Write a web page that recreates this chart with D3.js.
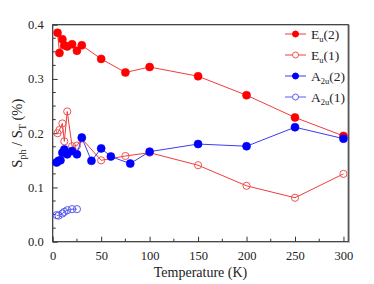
<!DOCTYPE html>
<html>
<head>
<meta charset="utf-8">
<script src="https://cdn.jsdelivr.net/npm/d3@7"></script>
<style>
  body { margin: 0; background: #fff; }
</style>
</head>
<body>
<div id="chart"></div>
<script>
// Temperatures (K) and S_ph / S_T (%) values
const tempEu2 = [5, 7, 10, 12, 15, 20, 25, 30, 50, 75, 100, 150, 200, 250, 300];
const valEu2 = [0.385, 0.348, 0.373, 0.362, 0.360, 0.364, 0.352, 0.362, 0.337, 0.312, 0.322, 0.305, 0.270, 0.229, 0.195];

const tempEu1 = [5, 7, 10, 12, 15, 20, 25, 30, 50, 75, 100, 150, 200, 250, 300];
const valEu1 = [0.200, 0.206, 0.218, 0.185, 0.240, 0.176, 0.177, 0.190, 0.150, 0.158, 0.164, 0.141, 0.103, 0.081, 0.125];

const tempA2u2 = [4, 6, 8, 10, 12, 15, 20, 25, 30, 40, 50, 60, 80, 100, 150, 200, 250, 300];
const valA2u2 = [0.146, 0.149, 0.150, 0.164, 0.170, 0.161, 0.167, 0.161, 0.192, 0.149, 0.172, 0.157, 0.144, 0.166, 0.180, 0.176, 0.211, 0.190];

const tempA2u1 = [4, 6, 10, 12, 15, 20, 25];
const valA2u1 = [0.049, 0.048, 0.052, 0.055, 0.058, 0.060, 0.060];

const xTicks = [0, 50, 100, 150, 200, 250, 300];
const yTicks = [0.0, 0.1, 0.2, 0.3, 0.4];

const FONT = 'Liberation Serif, Times New Roman, DejaVu Serif, serif';

const series = [
    { name: 'E', sub: 'u', tag: '(2)', temps: tempEu2, vals: valEu2, color: '#ff0000', line: '#f03c3c', filled: true },
    { name: 'E', sub: 'u', tag: '(1)', temps: tempEu1, vals: valEu1, color: '#ee5555', line: '#f03c3c', filled: false },
    { name: 'A', sub: '2u', tag: '(2)', temps: tempA2u2, vals: valA2u2, color: '#0000ff', line: '#3c3cf0', filled: true },
    { name: 'A', sub: '2u', tag: '(1)', temps: tempA2u1, vals: valA2u1, color: '#5a5aee', line: '#5a5aee', filled: false }
];

const width = 374, height = 284;
const margin = { top: 24.7, right: 25.7, bottom: 42.3, left: 52.7 };
const innerW = width - margin.left - margin.right;
const innerH = height - margin.top - margin.bottom;

const svg = d3.select('#chart')
    .append('svg')
    .attr('width', width)
    .attr('height', height)
    .attr('font-family', FONT);

const g = svg.append('g')
    .attr('transform', `translate(${margin.left},${margin.top})`);

const x = d3.scaleLinear().domain([0, 305]).range([0, innerW]);
const y = d3.scaleLinear().domain([0, 0.4]).range([innerH, 0]);

// Minor ticks (inward)
const xMinor = d3.range(25, 301, 50);
const yMinor = d3.range(0.025, 0.4, 0.025).filter(v => Math.abs(v * 10 - Math.round(v * 10)) > 0.01);

g.append('g')
    .selectAll('line')
    .data(xMinor)
    .join('line')
    .attr('x1', d => x(d)).attr('x2', d => x(d))
    .attr('y1', innerH).attr('y2', innerH - 3)
    .attr('stroke', '#333');

g.append('g')
    .selectAll('line')
    .data(yMinor)
    .join('line')
    .attr('x1', 0).attr('x2', 3)
    .attr('y1', d => y(d)).attr('y2', d => y(d))
    .attr('stroke', '#333');

// Axes
const xAxis = g.append('g')
    .attr('transform', `translate(0,${innerH})`)
    .call(d3.axisBottom(x).tickValues(xTicks).tickSize(-5).tickPadding(9).tickFormat(d3.format('d')));

const yAxis = g.append('g')
    .call(d3.axisLeft(y).tickValues(yTicks).tickSize(-5).tickPadding(9).tickFormat(d3.format('.1f')));

[xAxis, yAxis].forEach(ax => {
    ax.attr('font-family', FONT).attr('font-size', 12.5);
    ax.select('.domain').remove();
    ax.selectAll('line').attr('stroke', '#333');
    ax.selectAll('text').attr('fill', '#222');
});

// Frame
g.append('rect')
    .attr('width', innerW)
    .attr('height', innerH)
    .attr('fill', 'none')
    .attr('stroke', '#333')
    .attr('stroke-width', 1.2);

g.append('line')
    .attr('x1', innerW + 1).attr('x2', innerW + 1)
    .attr('y1', 0).attr('y2', innerH + 1)
    .attr('stroke', '#999')
    .attr('stroke-width', 1);

// Lines and markers
const line = d3.line()
    .x(d => x(d[0]))
    .y(d => y(d[1]));

series.forEach(s => {
    const pts = s.temps.map((t, i) => [t, s.vals[i]]);
    g.append('path')
        .datum(pts)
        .attr('d', line)
        .attr('fill', 'none')
        .attr('stroke', s.line)
        .attr('stroke-width', 1);

    g.append('g')
        .selectAll('circle')
        .data(pts)
        .join('circle')
        .attr('cx', d => x(d[0]))
        .attr('cy', d => y(d[1]))
        .attr('r', s.filled ? 4 : 3.6)
        .attr('fill', s.filled ? s.color : 'none')
        .attr('stroke', s.color)
        .attr('stroke-width', s.filled ? 0.6 : 1);
});

// Legend
const legend = svg.append('g');
series.forEach((s, i) => {
    const ly = 34 + i * 21;
    const row = legend.append('g').attr('transform', `translate(0,${ly})`);
    row.append('line')
        .attr('x1', 285).attr('x2', 306)
        .attr('y1', 0).attr('y2', 0)
        .attr('stroke', s.line);
    row.append('circle')
        .attr('cx', 295.5).attr('cy', 0)
        .attr('r', 3)
        .attr('fill', s.filled ? s.color : '#fff')
        .attr('stroke', s.color);
    const t = row.append('text')
        .attr('x', 311)
        .attr('y', 5)
        .attr('font-size', 13.5)
        .attr('fill', '#222');
    t.append('tspan').text(s.name);
    t.append('tspan').text(s.sub).attr('font-size', 8.5).attr('dy', 3);
    t.append('tspan').text(s.tag).attr('dy', -3);
});

// Axis titles
svg.append('text')
    .attr('x', margin.left + innerW / 2)
    .attr('y', 277)
    .attr('text-anchor', 'middle')
    .attr('font-size', 14)
    .attr('fill', '#222')
    .text('Temperature (K)');

const yt = svg.append('text')
    .attr('transform', `translate(22,${margin.top + innerH / 2}) rotate(-90)`)
    .attr('text-anchor', 'middle')
    .attr('font-size', 14.5)
    .attr('fill', '#222');
yt.append('tspan').text('S');
yt.append('tspan').text('ph').attr('font-size', 10).attr('dy', 4);
yt.append('tspan').text(' / S').attr('dy', -4);
yt.append('tspan').text('T').attr('font-size', 10).attr('dy', 4);
yt.append('tspan').text(' (%)').attr('dy', -4);
</script>
</body>
</html>
